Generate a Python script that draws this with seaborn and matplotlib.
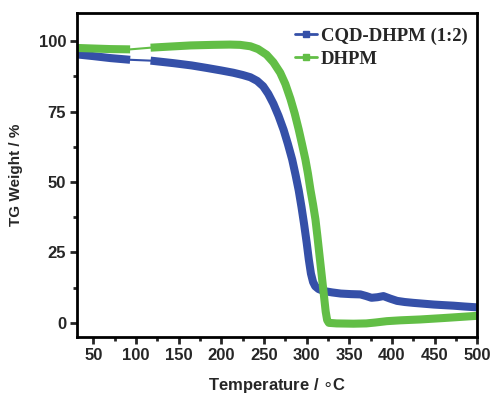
import numpy as np
import pandas as pd
import matplotlib
matplotlib.use("Agg")
import matplotlib.pyplot as plt
import seaborn as sns
from matplotlib.lines import Line2D

# Data
temp_cqd = [31, 50, 70, 93, 117, 144, 165, 183, 200, 214, 225, 234, 242, 249, 255, 261, 267, 273, 278,
            283, 287, 290.7, 294, 297, 300, 302.5, 305, 307.5, 310, 314, 320, 330, 340, 352, 363, 370,
            376, 383, 390, 398, 406, 415, 425, 437, 449, 460, 472, 485, 500]
wt_cqd = [95.3, 94.7, 94.0, 93.4, 93.1, 92.2, 91.4, 90.5, 89.6, 88.8, 88.0, 87.2, 85.9, 84.0, 81.3, 77.8,
          73.5, 68.5, 63.5, 58.0, 52.5, 47.0, 41.0, 35.0, 28.5, 22.5, 17.5, 14.5, 13.0, 12.0, 11.3, 10.8,
          10.4, 10.2, 10.1, 9.5, 8.9, 9.1, 9.5, 8.6, 7.8, 7.4, 7.1, 6.8, 6.5, 6.3, 6.1, 5.8, 5.5]

temp_dhpm = [31, 50, 70, 93, 117, 140, 164, 190, 210, 222, 234, 243, 253, 261, 269, 275, 281, 286,
             290.7, 294.5, 298.5, 301.5, 304.4, 307.5, 310.3, 312.5, 314.5, 316.5, 318.5, 320.5, 322.3,
             324, 326, 335, 355, 370, 380, 394, 410, 433, 460, 480, 500]
wt_dhpm = [97.6, 97.4, 97.2, 97.1, 97.7, 98.1, 98.5, 98.7, 98.8, 98.7, 98.2, 97.2, 95.2, 92.5, 88.8,
           84.8, 79.5, 74.3, 68.6, 63.5, 58.0, 53.0, 47.3, 42.0, 36.7, 31.0, 25.5, 20.0, 14.5, 9.0, 4.0,
           1.0, 0.0, -0.2, -0.3, -0.2, 0.1, 0.6, 0.9, 1.2, 1.7, 2.1, 2.5]

labels = ["CQD-DHPM (1:2)", "DHPM"]
gap = (93, 117)

blue = "#3550A8"
green = "#62BE46"

sns.set_theme(style="ticks")
plt.rcParams["font.family"] = ["Liberation Sans", "DejaVu Sans"]

fig, ax = plt.subplots(figsize=(4.92, 3.95), dpi=100)
fig.subplots_adjust(left=0.157, right=0.970, top=0.967, bottom=0.147)

lw = 5.8
for t, w, c in [(temp_cqd, wt_cqd, blue), (temp_dhpm, wt_dhpm, green)]:
    df = pd.DataFrame({"T": t, "W": w})
    sns.lineplot(data=df, x="T", y="W", ax=ax, color=c, lw=1.5, estimator=None, sort=False)
    a = df[df["T"] <= gap[0]]
    b = df[df["T"] >= gap[1]]
    sns.lineplot(data=a, x="T", y="W", ax=ax, color=c, lw=lw, estimator=None, sort=False,
                 solid_capstyle="butt")
    sns.lineplot(data=b, x="T", y="W", ax=ax, color=c, lw=lw, estimator=None, sort=False,
                 solid_capstyle="butt", solid_joinstyle="round")

ax.set_xlim(31, 500)
ax.set_ylim(-5, 110)
ax.set_xticks(np.arange(50, 501, 50))
ax.set_yticks([0, 25, 50, 75, 100])
ax.set_xticks(np.arange(75, 500, 50), minor=True)
ax.set_yticks([12.5, 37.5, 62.5, 87.5], minor=True)

for s in ax.spines.values():
    s.set_linewidth(2.0)
    s.set_color("black")
ax.tick_params(axis="both", which="major", direction="out", length=5, width=2, labelsize=12, pad=3)
ax.tick_params(axis="both", which="minor", direction="out", length=3, width=2)
for lab in ax.get_xticklabels() + ax.get_yticklabels():
    lab.set_fontweight("bold")

ax.set_xlabel(r"Temperature / $\circ$C", fontsize=12, fontweight="bold", labelpad=9)
ax.set_ylabel("TG Weight / %", fontsize=11, fontweight="bold", labelpad=11)

handles = [Line2D([0], [0], color=blue, lw=2, marker="s", markersize=4),
           Line2D([0], [0], color=green, lw=2, marker="s", markersize=4)]
ax.legend(handles, labels, loc="upper right", frameon=False,
          prop={"family": "Liberation Serif", "weight": "bold", "size": 13.5},
          handlelength=1.15, handletextpad=0.2, labelspacing=0.3,
          borderaxespad=0.3, bbox_to_anchor=(1.008, 0.995))

fig.savefig("out.png", dpi=100)
